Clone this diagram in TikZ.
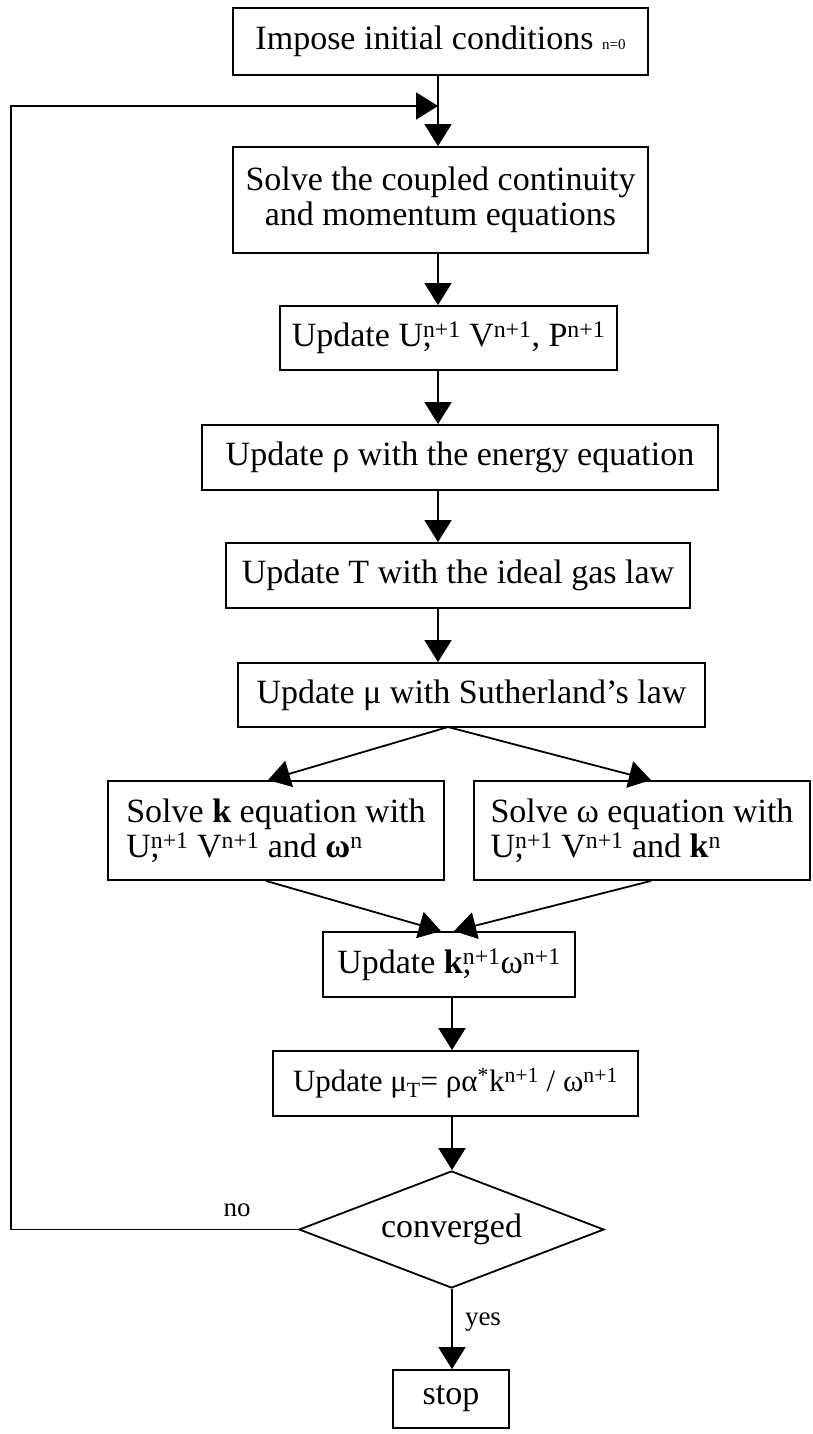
\documentclass[tikz,border=0pt]{standalone}
\usepackage{fontspec}
\setmainfont{Liberation Serif}
\usetikzlibrary{shapes.geometric,arrows.meta}

\tikzset{
  box/.style={draw, line width=1.8pt, align=center, inner sep=0pt, font=\fontsize{34}{35}\selectfont},
  arr/.style={line width=1.8pt, -{Triangle[length=22pt,width=27pt]}},
  lab/.style={font=\fontsize{27}{27}\selectfont},
}

\begin{document}
\begin{tikzpicture}[x=1pt,y=-1pt]
  \useasboundingbox (0,0) rectangle (812,1434);
  \coordinate (spine) at (438,0);    % main line, upper part
  \coordinate (spinelow) at (452,0); % main line, lower part

  % boxes, top to bottom
  \node[box, minimum width=415pt, minimum height=67pt] (init) at (440.5,41.5)
     {Impose initial conditions {\fontsize{15}{15}\selectfont n=0}};
  \node[box, minimum width=415pt, minimum height=106pt] (solve) at (440.5,200)
     {Solve the coupled continuity\\and momentum equations};
  \node[box, minimum width=337pt, minimum height=64pt] (upduvp) at (448.5,338)
     {Update U\rlap{,}\textsuperscript{n+1} V\textsuperscript{n+1}, P\textsuperscript{n+1}};
  \node[box, minimum width=516pt, minimum height=65pt] (updrho) at (460,457.5)
     {Update ρ with the energy equation};
  \node[box, minimum width=464pt, minimum height=65pt] (updT) at (458,575.5)
     {Update T with the ideal gas law};
  \node[box, minimum width=467pt, minimum height=64pt] (updmu) at (471.5,695)
     {Update μ with Sutherland’s law};
  \node[box, align=left, minimum width=336pt, minimum height=99pt] (solvek) at (276,830.5)
     {Solve \textbf{k} equation with\\U\rlap{,}\textsuperscript{n+1} V\textsuperscript{n+1} and \textbf{ω}\textsuperscript{n}};
  \node[box, align=left, minimum width=336pt, minimum height=99pt] (solvew) at (642,830.5)
     {Solve ω equation with\\U\rlap{,}\textsuperscript{n+1} V\textsuperscript{n+1} and \textbf{k}\textsuperscript{n}};
  \node[box, minimum width=252pt, minimum height=65pt] (updkw) at (449,964.5)
     {Update \textbf{k}\rlap{,}\textsuperscript{n+1}ω\textsuperscript{n+1}};
  \node[box, font=\fontsize{31}{32}\selectfont, minimum width=365pt, minimum height=65pt] (updmut) at (455.5,1083.5)
     {Update μ\textsubscript{T}= ρα\textsuperscript{*}k\textsuperscript{n+1} / ω\textsuperscript{n+1}};
  \node[box, diamond, aspect=2.6, minimum width=305pt, minimum height=117pt] (conv) at (451.5,1229.5)
     {converged};
  \node[box, minimum width=116pt, minimum height=58pt] (stop) at (451,1399) {stop};

  \node[lab] (nolab) at (237,1210) {no};
  \node[lab] (yeslab) at (483,1322) {yes};

  % main line
  \coordinate (join) at (438,106);
  \coordinate (ret) at (11,106);
  \foreach \a/\b in {init/solve,solve/upduvp,upduvp/updrho,updrho/updT,updT/updmu}
     \draw[arr] (\a.south -| spine) -- (\b.north -| spine);
  \foreach \a/\b in {updkw/updmut,updmut/conv,conv/stop}
     \draw[arr] (\a.south -| spinelow) -- (\b.north -| spinelow);

  % fork and merge
  \coordinate (fork) at (448,727);
  \draw[arr] (fork) -- ([xshift=-8pt]solvek.north);
  \draw[arr] (fork) -- ([xshift=9pt]solvew.north);
  \draw[arr] ([xshift=-10pt]solvek.south) -- ([xshift=-8pt]updkw.north);
  \draw[arr] ([xshift=9pt]solvew.south) -- ([xshift=5pt]updkw.north);

  % back to the top when not converged
  \draw[arr] (conv.west) -| (ret) -- (join);
\end{tikzpicture}
\end{document}
